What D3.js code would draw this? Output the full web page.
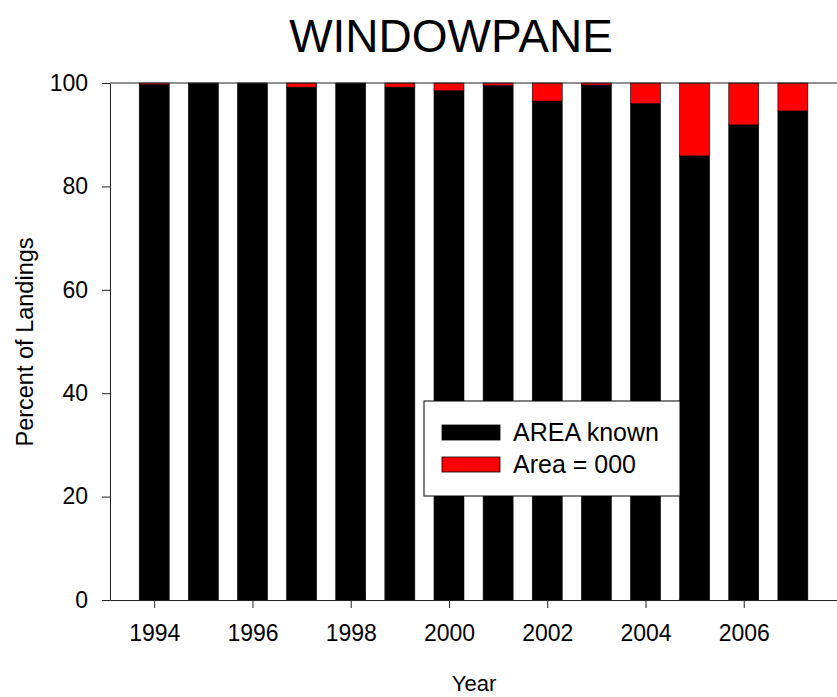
<!DOCTYPE html>
<html>
<head>
<meta charset="utf-8">
<script src="https://cdn.jsdelivr.net/npm/d3@7"></script>
<style>
  body { margin: 0; background: #fff; }
  svg { display: block; overflow: hidden; }
  text { font-family: Arial, "Liberation Sans", sans-serif; fill: #000; }
</style>
</head>
<body>
<script>
var width = 837,
    height = 697;

// data
var years = [1994, 1995, 1996, 1997, 1998, 1999, 2000, 2001, 2002, 2003, 2004, 2005, 2006, 2007];
var areaKnown = [99.7, 100, 100, 99.2, 100, 99.2, 98.5, 99.5, 96.5, 99.6, 96.0, 85.9, 91.9, 94.6];
var area000 = [0.3, 0, 0, 0.8, 0, 0.8, 1.5, 0.5, 3.5, 0.4, 4.0, 14.1, 8.1, 5.4];
var xTicks = [1994, 1996, 1998, 2000, 2002, 2004, 2006];
var yTicks = [0, 20, 40, 60, 80, 100];
var seriesNames = ["AREA known", "Area = 000"];
var seriesColors = ["#000000", "#ff0000"];

// plot box (window.top is reserved, so prefixed names)
var plotLeft = 110, plotTop = 83, plotBottom = 600, plotRight = 842;

var x = d3.scaleLinear().domain([1993.1, 2008]).range([plotLeft, plotRight]);
var y = d3.scaleLinear().domain([0, 100]).range([plotBottom, plotTop]);
var barW = 0.61; // in years

var table = years.map(function(yr, i) {
  return { year: yr, known: areaKnown[i], zero: area000[i] };
});
var stack = d3.stack().keys(["known", "zero"]);
var layers = stack(table);

var svg = d3.select("body").append("svg")
    .attr("width", width)
    .attr("height", height);

// title
svg.append("text")
    .attr("x", 451)
    .attr("y", 52)
    .attr("text-anchor", "middle")
    .attr("font-size", 46)
    .text("WINDOWPANE");

// bars
svg.append("g")
  .selectAll("g")
  .data(layers)
  .enter().append("g")
    .attr("fill", function(d, i) { return seriesColors[i]; })
  .selectAll("rect")
  .data(function(d) { return d.filter(function(p) { return p[1] - p[0] > 0; }); })
  .enter().append("rect")
    .attr("x", function(d) { return x(d.data.year - barW / 2); })
    .attr("width", function(d) { return x(d.data.year + barW / 2) - x(d.data.year - barW / 2); })
    .attr("y", function(d) { return y(d[1]); })
    .attr("height", function(d) { return y(d[0]) - y(d[1]); })
    .attr("stroke", "#000")
    .attr("stroke-width", 0.6);

// frame top line
svg.append("line")
    .attr("x1", plotLeft).attr("x2", plotRight)
    .attr("y1", plotTop).attr("y2", plotTop)
    .attr("stroke", "#222");

// axes
var yAxis = svg.append("g")
    .attr("transform", "translate(" + plotLeft + ",0)")
    .call(d3.axisLeft(y).tickValues(yTicks).tickSize(8).tickPadding(14).tickSizeOuter(0));
var xAxis = svg.append("g")
    .attr("transform", "translate(0," + plotBottom + ")")
    .call(d3.axisBottom(x).tickValues(xTicks).tickFormat(d3.format("d")).tickSize(8).tickPadding(17).tickSizeOuter(0));

[yAxis, xAxis].forEach(function(a) {
  a.selectAll("path").attr("stroke", "#222");
  a.selectAll("line").attr("stroke", "#222");
  a.selectAll("text").attr("font-size", 23).attr("font-family", "Arial, 'Liberation Sans', sans-serif").attr("fill", "#000");
});

// axis titles
svg.append("text")
    .attr("transform", "translate(33,342) rotate(-90)")
    .attr("text-anchor", "middle")
    .attr("font-size", 23.5)
    .text("Percent of Landings");

svg.append("text")
    .attr("x", 474)
    .attr("y", 691)
    .attr("text-anchor", "middle")
    .attr("font-size", 22)
    .text("Year");

// legend
var legend = svg.append("g").attr("transform", "translate(424,401)");
legend.append("rect")
    .attr("width", 256).attr("height", 95)
    .attr("fill", "#fff").attr("stroke", "#000");
var item = legend.selectAll("g.item")
    .data(seriesNames)
  .enter().append("g")
    .attr("class", "item")
    .attr("transform", function(d, i) { return "translate(18," + (24 + i * 32) + ")"; });
item.append("rect")
    .attr("width", 58).attr("height", 15)
    .attr("fill", function(d, i) { return seriesColors[i]; })
    .attr("stroke", "#000").attr("stroke-width", 0.8);
item.append("text")
    .attr("x", 71).attr("y", 16)
    .attr("font-size", 25)
    .text(function(d) { return d; });
</script>
</body>
</html>
